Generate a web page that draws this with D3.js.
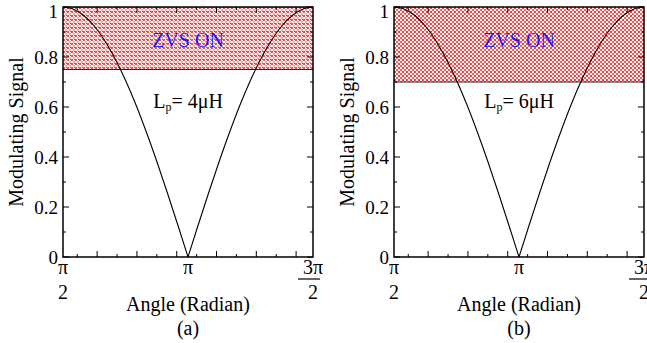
<!DOCTYPE html>
<html>
<head>
<meta charset="utf-8">
<script src="https://cdn.jsdelivr.net/npm/d3@7"></script>
<style>
  body { margin: 0; background: #fff; }
</style>
</head>
<body>
<svg id="chart" width="647" height="343"></svg>
<script>
// angle (rad) and modulating signal
var angles = [1.5708, 1.7017, 1.8326, 1.9635, 2.0944, 2.2253, 2.3562, 2.4871, 2.6180, 2.7489, 2.8798, 3.0107, 3.1416,
              3.2725, 3.4034, 3.5343, 3.6652, 3.7961, 3.9270, 4.0579, 4.1888, 4.3197, 4.4506, 4.5815, 4.7124];
var signal = [1, 0.991, 0.966, 0.924, 0.866, 0.793, 0.707, 0.609, 0.5, 0.383, 0.259, 0.131, 0,
              0.131, 0.259, 0.383, 0.5, 0.609, 0.707, 0.793, 0.866, 0.924, 0.966, 0.991, 1];

// one panel per inductance
var panelLetters = ['(a)', '(b)'];
var inductances = ['4', '6'];
var zvsThreshold = [0.75, 0.7];

// axis ticks
var yMajor = [0, 0.2, 0.4, 0.6, 0.8, 1];
var yMajorLabels = ['0', '0.2', '0.4', '0.6', '0.8', '1'];
var yMinor = [0.1, 0.3, 0.5, 0.7, 0.9];
var xMajor = [2, 2.5, 3, 3.5, 4, 4.5];
var xMinor = [1.75, 2.25, 2.75, 3.25, 3.75, 4.25];
var xLabelAt = [Math.PI / 2, Math.PI, 3 * Math.PI / 2];
var xLabelNum = ['\u03c0', '\u03c0', '3\u03c0'];

var svg = d3.select('#chart');
var serif = "'Liberation Serif'";
var width = 250, height = 250,
    panelLeft = [63, 394], plotTop = 7;

var x = d3.scaleLinear().domain([Math.PI / 2, 3 * Math.PI / 2]).range([0, width]);
var y = d3.scaleLinear().domain([0, 1]).range([height, 0]);

var pts = angles.map(function(a, i) { return {a: a, v: signal[i]}; });
var mid = signal.indexOf(d3.min(signal));
var halves = [pts.slice(0, mid + 1), pts.slice(mid)];

var line = d3.line()
  .x(function(d) { return x(d.a); })
  .y(function(d) { return y(d.v); })
  .curve(d3.curveMonotoneX);

// dotted fill patterns for the ZVS region (2px dots)
var defs = svg.append('defs');
function dotPattern(id, cells) {
  var p = defs.append('pattern').attr('id', id)
    .attr('patternUnits', 'userSpaceOnUse')
    .attr('width', 4).attr('height', 4);
  p.append('rect').attr('width', 4).attr('height', 4).attr('fill', '#fff');
  cells.forEach(function(c) {
    p.append('rect').attr('x', c[0]).attr('y', c[1]).attr('width', c[3]).attr('height', c[3])
      .attr('fill', c[2]);
  });
}
dotPattern('dotsA', [[0, 0, '#ff4848', 2], [2, 2, '#ffa8a8', 2], [3, 0, '#777', 1]]);
dotPattern('dotsB', [[0, 0, '#ff3c3c', 2], [2, 2, '#ff5a5a', 2]]);

function txt(sel, size) {
  return sel.append('text').style('font-family', serif).style('font-size', size + 'px');
}

panelLetters.forEach(function(letter, i) {
  var g = svg.append('g')
    .attr('transform', 'translate(' + panelLeft[i] + ',' + plotTop + ')');

  // shaded ZVS region
  g.append('rect')
    .attr('x', 0).attr('y', y(1))
    .attr('width', width).attr('height', y(zvsThreshold[i]) - y(1))
    .attr('fill', 'url(#dots' + (i === 0 ? 'A' : 'B') + ')');
  g.append('line')
    .attr('x1', 0).attr('x2', width)
    .attr('y1', y(zvsThreshold[i])).attr('y2', y(zvsThreshold[i]))
    .attr('stroke', '#222').attr('stroke-width', 1);

  // curve
  halves.forEach(function(h) {
    g.append('path').datum(h)
      .attr('d', line)
      .attr('fill', 'none')
      .attr('stroke', '#000')
      .attr('stroke-width', 1.1);
  });

  // inward ticks on all four sides
  var ticks = g.append('g').attr('stroke', '#000').attr('stroke-width', 1);
  function vTicks(vals, len) {
    vals.forEach(function(v) {
      ticks.append('line').attr('x1', x(v)).attr('x2', x(v)).attr('y1', height).attr('y2', height - len);
      ticks.append('line').attr('x1', x(v)).attr('x2', x(v)).attr('y1', 0).attr('y2', len);
    });
  }
  function hTicks(vals, len) {
    vals.forEach(function(v) {
      ticks.append('line').attr('y1', y(v)).attr('y2', y(v)).attr('x1', 0).attr('x2', len);
      ticks.append('line').attr('y1', y(v)).attr('y2', y(v)).attr('x1', width).attr('x2', width - len);
    });
  }
  vTicks(xMajor, 6);
  vTicks(xMinor, 3);
  hTicks(yMajor, 6);
  hTicks(yMinor, 3);

  // frame
  g.append('rect')
    .attr('width', width).attr('height', height)
    .attr('fill', 'none').attr('stroke', '#000').attr('stroke-width', 1.5);

  // y tick labels
  yMajor.forEach(function(d, k) {
    txt(g, 19)
      .attr('x', -5).attr('y', y(d))
      .attr('dy', d === 1 ? '0.6em' : '0.35em')
      .attr('text-anchor', 'end')
      .text(yMajorLabels[k]);
  });

  // x tick labels as fractions
  xLabelAt.forEach(function(v, k) {
    var cx = x(v);
    txt(g, 20).attr('x', cx).attr('y', height + 17)
      .attr('text-anchor', 'middle').text(xLabelNum[k]);
    if (k === 1) return;
    txt(g, 20).attr('x', cx).attr('y', height + 42)
      .attr('text-anchor', 'middle').text('2');
    if (k === 2) {
      g.append('line').attr('x1', cx - 15).attr('x2', cx + 7)
        .attr('y1', height + 22).attr('y2', height + 22)
        .attr('stroke', '#000').attr('stroke-width', 1.2);
    }
  });

  // axis titles
  txt(g, 20)
    .attr('x', width / 2).attr('y', height + 54)
    .attr('text-anchor', 'middle')
    .text('Angle (Radian)');
  txt(g, 20)
    .attr('transform', 'translate(-40,' + (height / 2) + ') rotate(-90)')
    .attr('text-anchor', 'middle')
    .text('Modulating Signal');
  txt(g, 20)
    .attr('x', width / 2).attr('y', height + 78)
    .attr('text-anchor', 'middle')
    .text(letter);

  // annotations
  txt(g, 20)
    .attr('x', width / 2).attr('y', 40)
    .attr('text-anchor', 'middle')
    .style('fill', '#1a1aff')
    .text('ZVS ON');
  var lp = txt(g, 20)
    .attr('x', width / 2).attr('y', 101)
    .attr('text-anchor', 'middle');
  lp.append('tspan').text('L');
  lp.append('tspan').attr('dy', 3).style('font-size', '12px').text('p');
  lp.append('tspan').attr('dy', -3).text('= ' + inductances[i] + '\u03bcH');
});
</script>
</body>
</html>
